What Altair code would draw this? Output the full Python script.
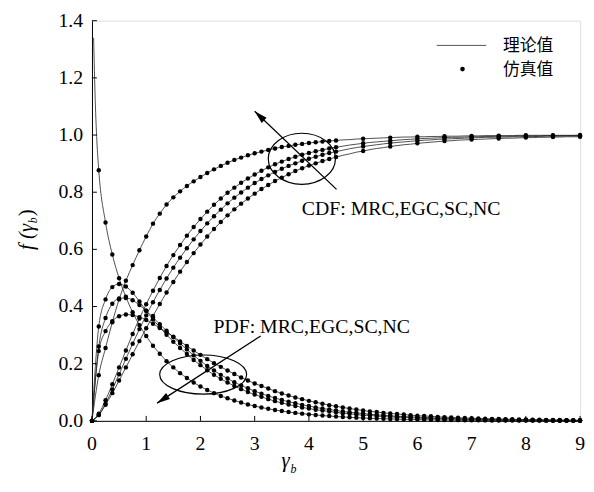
import altair as alt
import pandas as pd

# ---------------- data ----------------
x_grid = [0, 0.125, 0.25, 0.375, 0.5, 0.625, 0.75, 0.875, 1, 1.125, 1.25, 1.375, 1.5, 1.625, 1.75, 1.875,
          2, 2.125, 2.25, 2.375, 2.5, 2.625, 2.75, 2.875, 3, 3.125, 3.25, 3.375, 3.5, 3.625, 3.75, 3.875,
          4, 4.125, 4.25, 4.375, 4.5, 4.625, 4.75, 4.875, 5, 5.125, 5.25, 5.375, 5.5, 5.625, 5.75, 5.875,
          6, 6.125, 6.25, 6.375, 6.5, 6.625, 6.75, 6.875, 7, 7.125, 7.25, 7.375, 7.5, 7.625, 7.75, 7.875,
          8, 8.125, 8.25, 8.375, 8.5, 8.625, 8.75, 8.875, 9]

mrc_pdf = [0, 0.244, 0.314, 0.349, 0.366, 0.372, 0.370, 0.363, 0.353, 0.340, 0.325, 0.310, 0.294, 0.278, 0.262, 0.246,
           0.231, 0.216, 0.202, 0.189, 0.176, 0.164, 0.152, 0.141, 0.131, 0.122, 0.113, 0.104, 0.096, 0.089, 0.082, 0.076,
           0.070, 0.065, 0.060, 0.055, 0.051, 0.047, 0.043, 0.040, 0.036, 0.033, 0.031, 0.028, 0.026, 0.024, 0.022, 0.020,
           0.018, 0.017, 0.016, 0.014, 0.013, 0.012, 0.011, 0.010, 0.0092, 0.0085, 0.0077, 0.0071, 0.0065, 0.0060, 0.0054, 0.0050,
           0.0046, 0.0042, 0.0038, 0.0035, 0.0032, 0.0029, 0.0027, 0.0024, 0.0022]
egc_pdf = [0, 0.26, 0.36, 0.41, 0.428, 0.43, 0.422, 0.405, 0.385, 0.362, 0.338, 0.315, 0.293, 0.271, 0.250, 0.229,
           0.210, 0.192, 0.176, 0.161, 0.148, 0.135, 0.124, 0.114, 0.104, 0.095, 0.087, 0.080, 0.073, 0.067, 0.062, 0.056,
           0.052, 0.047, 0.043, 0.040, 0.036, 0.033, 0.030, 0.028, 0.026, 0.023, 0.021, 0.020, 0.018, 0.016, 0.015, 0.014,
           0.013, 0.012, 0.011, 0.0098, 0.0090, 0.0082, 0.0075, 0.0069, 0.0063, 0.0058, 0.0053, 0.0049, 0.0045, 0.0041, 0.0037, 0.0034,
           0.0031, 0.0029, 0.0026, 0.0024, 0.0022, 0.0020, 0.0018, 0.0017, 0.0016]
sc_pdf = [0, 0.33, 0.425, 0.468, 0.479, 0.470, 0.448, 0.418, 0.385, 0.355, 0.327, 0.301, 0.277, 0.255, 0.234, 0.213,
          0.195, 0.177, 0.161, 0.147, 0.134, 0.122, 0.111, 0.101, 0.092, 0.084, 0.076, 0.069, 0.063, 0.057, 0.052, 0.047,
          0.043, 0.039, 0.036, 0.033, 0.030, 0.027, 0.025, 0.022, 0.020, 0.019, 0.017, 0.015, 0.014, 0.013, 0.012, 0.011,
          0.0098, 0.0089, 0.0081, 0.0074, 0.0067, 0.0061, 0.0056, 0.0051, 0.0046, 0.0042, 0.0038, 0.0035, 0.0032, 0.0029, 0.0026, 0.0024,
          0.0022, 0.0020, 0.0018, 0.0016, 0.0015, 0.0014, 0.0012, 0.0011, 0.0010]
nc_pdf = [None, 0.877, 0.694, 0.582, 0.499, 0.434, 0.380, 0.335, 0.297, 0.263, 0.235, 0.209, 0.187, 0.167, 0.150, 0.134,
          0.120, 0.108, 0.097, 0.087, 0.079, 0.071, 0.064, 0.057, 0.052, 0.0467, 0.0421, 0.0380, 0.0343, 0.0309, 0.0279, 0.0252,
          0.0228, 0.0206, 0.0186, 0.0168, 0.0152, 0.0137, 0.0124, 0.0112, 0.0101, 0.0091, 0.0083, 0.0075, 0.0068, 0.0061, 0.0055, 0.0050,
          0.0045, 0.0041, 0.0037, 0.0033, 0.0030, 0.0027, 0.0025, 0.0022, 0.0020, 0.0018, 0.0016, 0.0015, 0.0013, 0.0012, 0.0011, 0.0010,
          0.0009, 0.0008, 0.0007, 0.0007, 0.0006, 0.0005, 0.0005, 0.0004, 0.0004]
nc_pdf_head_x = [0.03, 0.06, 0.09]
nc_pdf_head_y = [1.34, 1.12, 0.98]

mrc_cdf = [0, 0.021, 0.056, 0.097, 0.141, 0.187, 0.233, 0.279, 0.324, 0.367, 0.409, 0.449, 0.486, 0.522, 0.556, 0.587,
           0.617, 0.645, 0.671, 0.696, 0.719, 0.740, 0.760, 0.778, 0.795, 0.811, 0.825, 0.839, 0.851, 0.863, 0.874, 0.884,
           0.893, 0.901, 0.909, 0.916, 0.923, 0.929, 0.934, 0.940, 0.944, 0.949, 0.953, 0.956, 0.960, 0.963, 0.966, 0.968,
           0.971, 0.973, 0.975, 0.977, 0.979, 0.980, 0.982, 0.983, 0.984, 0.985, 0.986, 0.987, 0.988, 0.989, 0.989, 0.990,
           0.991, 0.991, 0.992, 0.992, 0.993, 0.993, 0.994, 0.994, 0.994]
egc_cdf = [0, 0.020, 0.060, 0.110, 0.163, 0.217, 0.270, 0.321, 0.369, 0.415, 0.458, 0.498, 0.536, 0.571, 0.604, 0.635,
           0.664, 0.691, 0.716, 0.739, 0.761, 0.781, 0.799, 0.816, 0.832, 0.846, 0.859, 0.871, 0.882, 0.892, 0.901, 0.910,
           0.917, 0.924, 0.931, 0.937, 0.942, 0.947, 0.952, 0.956, 0.960, 0.963, 0.966, 0.969, 0.972, 0.974, 0.976, 0.978,
           0.980, 0.982, 0.983, 0.985, 0.986, 0.987, 0.988, 0.989, 0.990, 0.991, 0.992, 0.992, 0.993, 0.993, 0.994, 0.994,
           0.995, 0.995, 0.995, 0.996, 0.996, 0.996, 0.997, 0.997, 0.997]
sc_cdf = [0, 0.025, 0.072, 0.128, 0.187, 0.246, 0.304, 0.358, 0.408, 0.455, 0.500, 0.542, 0.580, 0.615, 0.648, 0.678,
          0.706, 0.732, 0.756, 0.778, 0.798, 0.816, 0.833, 0.848, 0.862, 0.875, 0.887, 0.898, 0.907, 0.916, 0.924, 0.931,
          0.937, 0.943, 0.948, 0.953, 0.957, 0.961, 0.965, 0.968, 0.971, 0.974, 0.976, 0.978, 0.980, 0.982, 0.984, 0.985,
          0.987, 0.988, 0.989, 0.990, 0.991, 0.992, 0.992, 0.993, 0.994, 0.994, 0.995, 0.995, 0.996, 0.996, 0.996, 0.997,
          0.997, 0.997, 0.997, 0.998, 0.998, 0.998, 0.998, 0.998, 0.998]
nc_cdf = [0, 0.160, 0.255, 0.345, 0.425, 0.490, 0.545, 0.597, 0.645, 0.690, 0.725, 0.757, 0.782, 0.803, 0.822, 0.838,
          0.853, 0.867, 0.880, 0.892, 0.903, 0.913, 0.921, 0.929, 0.936, 0.942, 0.948, 0.953, 0.958, 0.962, 0.966, 0.969,
          0.972, 0.975, 0.977, 0.979, 0.981, 0.983, 0.984, 0.986, 0.987, 0.988, 0.989, 0.990, 0.991, 0.992, 0.993, 0.993,
          0.994, 0.994, 0.995, 0.995, 0.996, 0.996, 0.996, 0.997, 0.997, 0.997, 0.998, 0.998, 0.998, 0.998, 0.998, 0.999,
          0.999, 0.999, 0.999, 0.999, 0.999, 0.999, 0.999, 0.999, 1.0]

x_ticks = [0, 1, 2, 3, 4, 5, 6, 7, 8, 9]
y_ticks = [0, 0.2, 0.4, 0.6, 0.8, 1.0, 1.2, 1.4]

cdf_label = "CDF: MRC,EGC,SC,NC"
pdf_label = "PDF: MRC,EGC,SC,NC"
legend_labels = ["理论值", "仿真值"]

# ---------------- tables ----------------
series = {"MRC_pdf": mrc_pdf, "EGC_pdf": egc_pdf, "SC_pdf": sc_pdf, "NC_pdf": nc_pdf,
          "MRC_cdf": mrc_cdf, "EGC_cdf": egc_cdf, "SC_cdf": sc_cdf, "NC_cdf": nc_cdf}
rows = []
for name, vals in series.items():
    for i, (xv, yv) in enumerate(zip(x_grid, vals)):
        if yv is not None:
            rows.append({"x": xv, "y": yv, "curve": name, "i": i})
df = pd.DataFrame(rows)
head = pd.DataFrame({"x": nc_pdf_head_x, "y": nc_pdf_head_y, "curve": "NC_pdf", "i": -1})
df_lines = pd.concat([head, df], ignore_index=True).sort_values(["curve", "x"])
is_cdf = df["curve"].str.endswith("cdf")
df_dots = df[(~is_cdf) | (df["i"] <= 36) | (df["i"] % 4 == 0)]

W, H = 494, 405
FONT = "Liberation Serif"
xs = alt.Scale(domain=[0, 9], nice=False)
ys = alt.Scale(domain=[0, 1.4], nice=False)
X = alt.X("x:Q", scale=xs, axis=alt.Axis(values=x_ticks, ticks=False, labels=False, grid=False,
                                           title=None, domainColor="black", domainWidth=1))
Y = alt.Y("y:Q", scale=ys, axis=alt.Axis(values=y_ticks, ticks=False, labels=False, grid=False,
                                           title=None, domainColor="black", domainWidth=1))

lines = alt.Chart(df_lines).mark_line(interpolate="monotone", strokeWidth=0.8, color="#222").encode(
    x=X, y=Y, detail="curve:N", order="x:Q")
dots = alt.Chart(df_dots).mark_circle(size=20, color="black", opacity=1).encode(x=X, y=Y)

xt = alt.Chart(pd.DataFrame({"x": x_ticks})).mark_rule(color="black", strokeWidth=1).encode(
    x=X, y=alt.value(H), y2=alt.value(H - 5))
yt = alt.Chart(pd.DataFrame({"y": y_ticks})).mark_rule(color="black", strokeWidth=1).encode(
    y=Y, x=alt.value(0), x2=alt.value(5))
xl = alt.Chart(pd.DataFrame({"x": x_ticks})).mark_text(
    align="center", baseline="middle", font=FONT, fontSize=20, color="black").encode(
    x=X, y=alt.value(H + 23), text=alt.Text("x:Q", format="d"))
yl = alt.Chart(pd.DataFrame({"y": y_ticks})).mark_text(
    align="right", baseline="middle", font=FONT, fontSize=20, color="black").encode(
    y=Y, x=alt.value(-9), text=alt.Text("y:Q", format=".1f"))

ell1 = alt.Chart(pd.DataFrame({"x": [3.87], "y": [0.917]})).mark_point(
    shape="M -1 0 A 1 0.76 0 1 0 1 0 A 1 0.76 0 1 0 -1 0", filled=False, color="black", strokeWidth=1.2,
    opacity=1).encode(x=X, y=Y, size=alt.value(4624))
ell2 = alt.Chart(pd.DataFrame({"x": [2.05], "y": [0.162]})).mark_point(
    shape="M -1 0 A 1 0.45 0 1 0 1 0 A 1 0.45 0 1 0 -1 0", filled=False, color="black", strokeWidth=1.2,
    opacity=1).encode(x=X, y=Y, size=alt.value(7744))

shafts_df = pd.DataFrame({"x": [4.51, 3.11], "y": [0.81, 0.297], "x2": [3.0, 1.2], "y2": [1.083, 0.062]})
heads_df = pd.DataFrame({"x": [3.0, 1.2], "y": [1.083, 0.062], "ang": [313.6, 237.1]})
shafts = alt.Chart(shafts_df).mark_rule(color="black", strokeWidth=1.3).encode(x=X, y=Y, x2="x2:Q", y2="y2:Q")
heads = alt.Chart(heads_df).mark_point(shape="M 0 0 L 0.6 2.2 L -0.6 2.2 Z", filled=True, color="black",
                                       opacity=1).encode(
    x=X, y=Y, angle=alt.Angle("ang:Q", scale=None), size=alt.value(144))

labels = alt.Chart(pd.DataFrame({"x": [3.87, 2.24], "y": [0.741, 0.328], "t": [cdf_label, pdf_label]})).mark_text(
    align="left", baseline="middle", font=FONT, fontSize=20, color="black").encode(x=X, y=Y, text="t:N")

one = pd.DataFrame({"a": [0]})
leg_line = alt.Chart(one).mark_rule(color="#555", strokeWidth=1).encode(
    x=alt.value(349), x2=alt.value(399), y=alt.value(25))
leg_dot = alt.Chart(one).mark_circle(size=22, color="black", opacity=1).encode(x=alt.value(375), y=alt.value(49))
leg_t1 = alt.Chart(one).mark_text(align="left", baseline="middle", font="Noto Sans CJK SC", fontSize=17,
                                  color="black", text=legend_labels[0]).encode(x=alt.value(416), y=alt.value(26))
leg_t2 = alt.Chart(one).mark_text(align="left", baseline="middle", font="Noto Sans CJK SC", fontSize=17,
                                  color="black", text=legend_labels[1]).encode(x=alt.value(416), y=alt.value(50))

# axis titles
xt_g = alt.Chart(one).mark_text(align="center", baseline="middle", font=FONT, fontSize=21, fontStyle="italic",
                                color="black", text="γ").encode(x=alt.value(196), y=alt.value(446))
xt_b = alt.Chart(one).mark_text(align="center", baseline="middle", font=FONT, fontSize=12, fontStyle="italic",
                                color="black", text="b").encode(x=alt.value(204), y=alt.value(454))
yt_1 = alt.Chart(one).mark_text(align="left", baseline="middle", angle=270, font=FONT, fontSize=21,
                                fontStyle="italic", color="black", text="f (γ").encode(x=alt.value(-66), y=alt.value(232))
yt_b = alt.Chart(one).mark_text(align="left", baseline="middle", angle=270, font=FONT, fontSize=12,
                                fontStyle="italic", color="black", text="b").encode(x=alt.value(-60), y=alt.value(205))
yt_2 = alt.Chart(one).mark_text(align="left", baseline="middle", angle=270, font=FONT, fontSize=21,
                                color="black", text=")").encode(x=alt.value(-66), y=alt.value(198))

chart = alt.layer(lines, dots, xt, yt, xl, yl, ell1, ell2, shafts, heads, labels,
                  leg_line, leg_dot, leg_t1, leg_t2, xt_g, xt_b, yt_1, yt_b, yt_2).properties(
    width=W, height=H, autosize=alt.AutoSizeParams(type="none"),
    padding={"left": 85, "top": 10, "right": 6, "bottom": 58},
).configure_view(stroke="black", strokeWidth=1).configure(background="white", font=FONT)

chart.save("out.html", embed_options={"renderer": "svg", "actions": False})
